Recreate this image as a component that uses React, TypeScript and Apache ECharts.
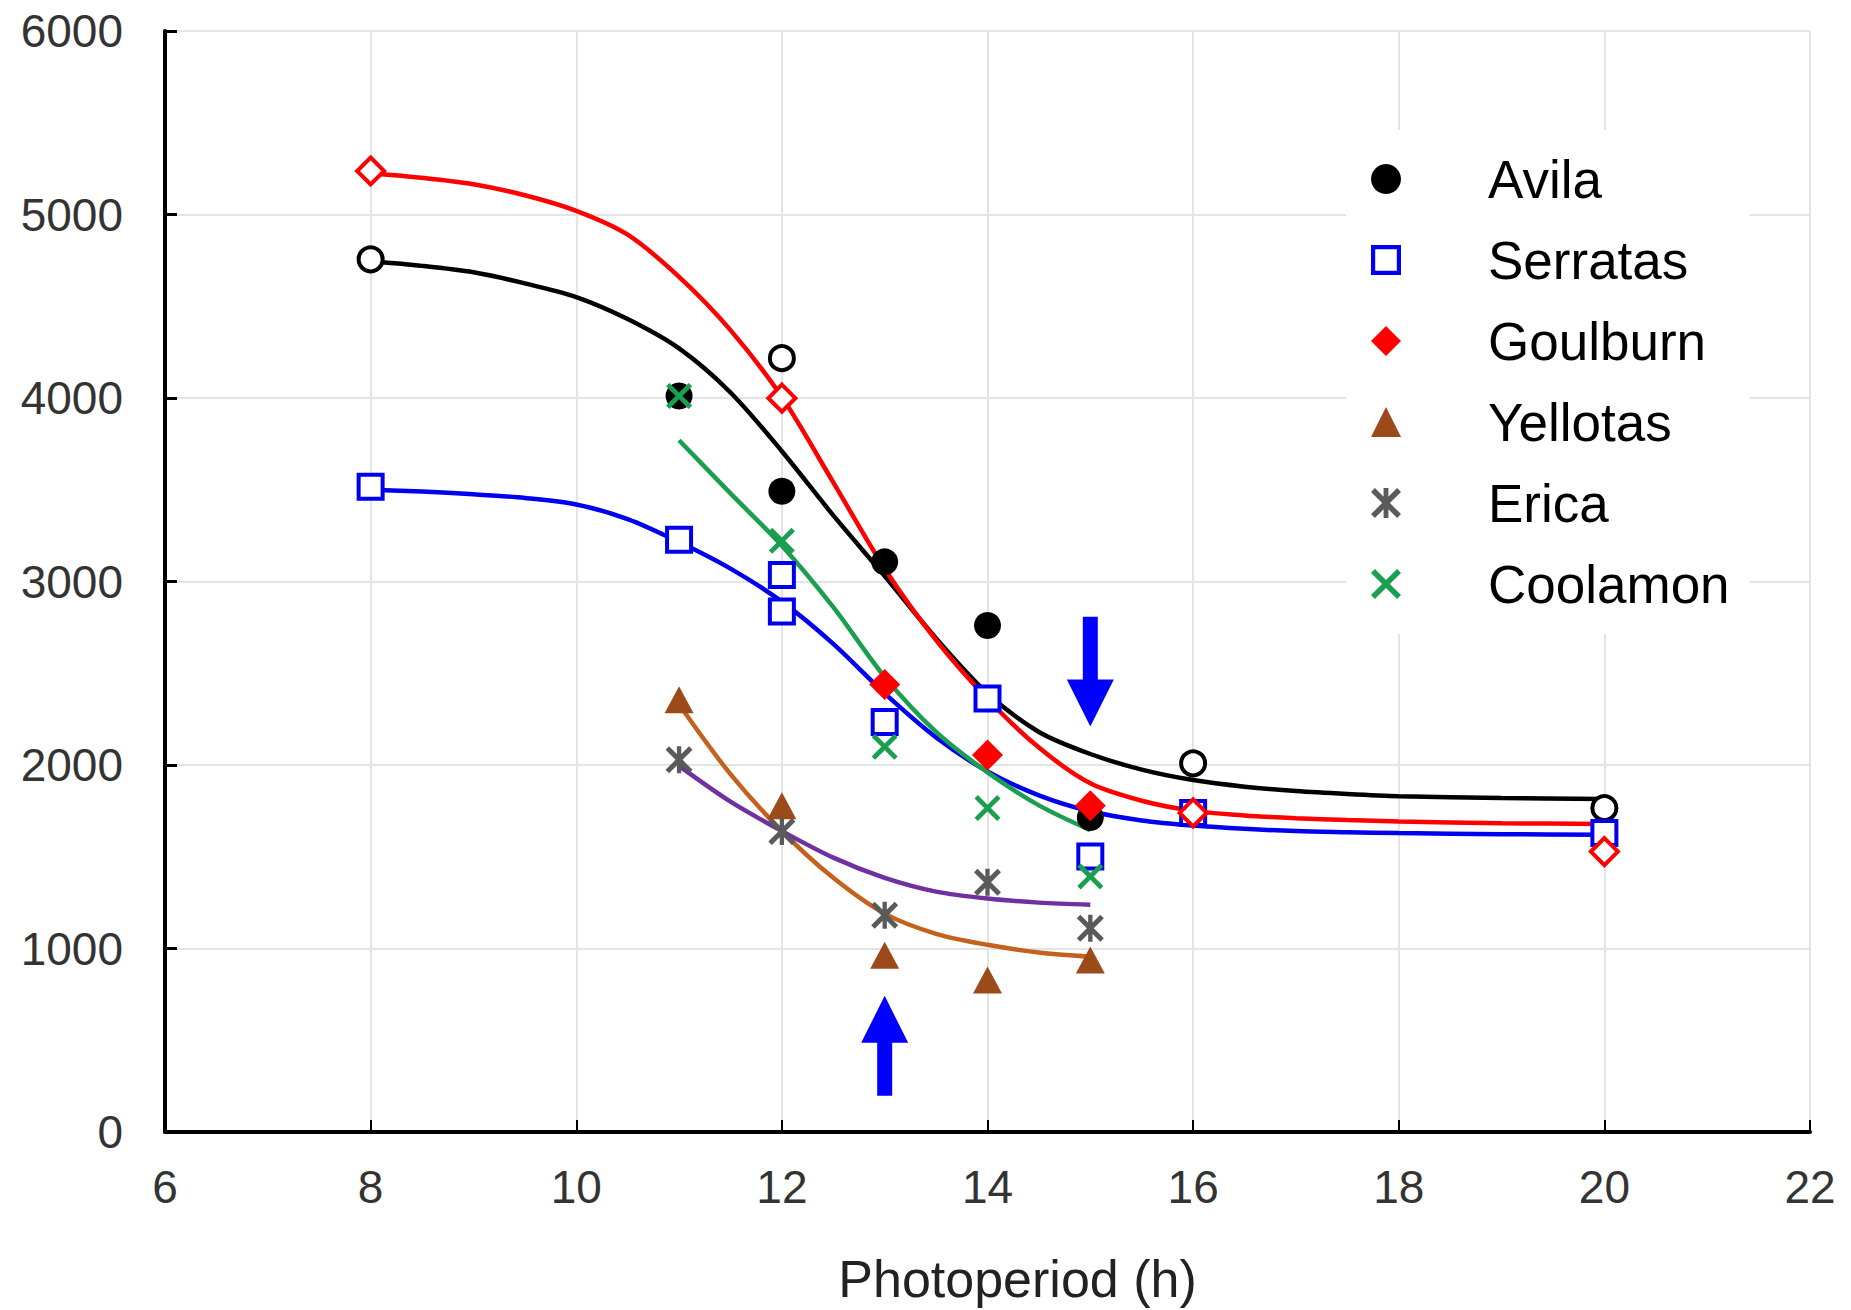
import React, { useEffect, useRef } from "react";
import * as echarts from "echarts";

const FONT = "'Liberation Sans', Arial, sans-serif";

// Observed points [photoperiod h, value]
const avilaFilled = [[11, 4011], [12, 3492], [13, 3107], [14, 2760], [15, 1714]];
const avilaOpen = [[8, 4756], [12, 4217], [16, 2009], [20, 1765]];
const serratas = [[8, 3517], [11, 3228], [12, 3036], [12, 2837], [13, 2234], [14, 2362], [15, 1502], [16, 1739], [20, 1630]];
const goulburnFilled = [[13, 2439], [14, 2054], [15, 1778]];
const goulburnOpen = [[8, 5237], [12, 3999], [16, 1739], [20, 1528]];
const yellotas = [[11, 2356], [12, 1778], [13, 963], [14, 828], [15, 937]];
const erica = [[11, 2028], [12, 1637], [13, 1181], [14, 1361], [15, 1110]];
const coolamon = [[11, 4011], [12, 3222], [13, 2099], [14, 1765], [15, 1393]];

// Fitted curves
const avilaFit = [[8, 4745], [8.5, 4720], [9, 4685], [9.5, 4625], [10, 4550], [10.5, 4430], [11, 4270], [11.5, 4030], [12, 3710], [12.5, 3360], [13, 3030], [13.5, 2690], [14, 2390], [14.5, 2180], [15, 2060], [15.5, 1975], [16, 1918], [16.5, 1882], [17, 1858], [17.5, 1842], [18, 1830], [19, 1820], [20, 1815]];
const goulburnFit = [[8, 5225], [8.5, 5200], [9, 5165], [9.5, 5105], [10, 5020], [10.5, 4890], [11, 4660], [11.5, 4370], [12, 4005], [12.5, 3540], [13, 3070], [13.5, 2680], [14, 2360], [14.5, 2095], [15, 1900], [15.5, 1805], [16, 1750], [16.5, 1725], [17, 1710], [17.5, 1700], [18, 1692], [19, 1683], [20, 1678]];
const serratasFit = [[8, 3500], [8.5, 3490], [9, 3475], [9.5, 3455], [10, 3420], [10.5, 3340], [11, 3215], [11.5, 3070], [12, 2890], [12.5, 2660], [13, 2390], [13.5, 2150], [14, 1965], [14.5, 1835], [15, 1748], [15.5, 1698], [16, 1670], [16.5, 1652], [17, 1640], [17.5, 1634], [18, 1629], [19, 1623], [20, 1620]];
const coolamonFit = [[11, 3770], [11.5, 3480], [12, 3195], [12.5, 2860], [13, 2480], [13.5, 2180], [14, 1960], [14.5, 1780], [15, 1645]];
const yellotasFit = [[11, 2330], [11.5, 1950], [12, 1640], [12.5, 1385], [13, 1190], [13.5, 1080], [14, 1020], [14.5, 978], [15, 955]];
const ericaFit = [[11, 1995], [11.5, 1800], [12, 1640], [12.5, 1495], [13, 1385], [13.5, 1310], [14, 1272], [14.5, 1250], [15, 1239]];

const legendNames = ["Avila", "Serratas", "Goulburn", "Yellotas", "Erica", "Coolamon"];

// Arrows: [x, tail value, tip value]
const arrowDown = [15, 2808, 2210];
const arrowUp = [13, 198, 742];

const C = {
  avila: "#000000",
  serratas: "#0000ee",
  goulburn: "#ff0000",
  yellotas: "#9c4a1a",
  yellotasLine: "#c4611d",
  erica: "#5a5a5a",
  ericaLine: "#7030a0",
  coolamon: "#1a9e4f",
  coolamonLine: "#1a9e4f",
  arrow: "#0000ff",
};

const X_PATH = "path://M0,1.3 L1.3,0 L5,3.7 L8.7,0 L10,1.3 L6.3,5 L10,8.7 L8.7,10 L5,6.3 L1.3,10 L0,8.7 L3.7,5 Z";
const STAR_PATH = "path://M0,1.3 L1.3,0 L5,3.7 L8.7,0 L10,1.3 L6.3,5 L10,8.7 L8.7,10 L5,6.3 L1.3,10 L0,8.7 L3.7,5 Z M4.2,0 L5.8,0 L5.8,10 L4.2,10 Z";
const HOLLOW_SQ = "path://M0,0 L10,0 L10,10 L0,10 Z M1.4,1.4 L1.4,8.6 L8.6,8.6 L8.6,1.4 Z";

export default function App() {
  const ref = useRef<HTMLDivElement>(null);
  useEffect(() => {
    document.body.style.margin = "0";
    const chart = echarts.init(ref.current!, null, { renderer: "svg" });

    const fitLine = (name: string, data: number[][], color: string) => ({
      name,
      type: "line",
      data,
      smooth: 0.3,
      showSymbol: false,
      symbol: "none",
      lineStyle: { color, width: 4.5 },
      z: 2,
      silent: true,
    });

    const openItem = (p: number[], color: string, symbol: string) => ({
      value: p,
      symbol,
      symbolSize: 24,
      itemStyle: { color: "#fff", borderColor: color, borderWidth: 4, opacity: 1 },
    });

    const option: any = {
      animation: false,
      backgroundColor: "#fff",
      grid: { left: 165, right: 41, top: 31, bottom: 175.5 },
      xAxis: {
        type: "value",
        min: 6,
        max: 22,
        interval: 2,
        name: "Photoperiod (h)",
        nameLocation: "middle",
        nameGap: 121,
        nameTextStyle: { fontSize: 52, fontFamily: FONT, color: "#222", padding: [0, 0, 0, 60] },
        axisLine: { show: true, onZero: false, lineStyle: { color: "#000", width: 4 } },
        axisTick: { show: true, inside: true, length: 12, lineStyle: { color: "#000", width: 2 } },
        axisLabel: { fontSize: 46, fontFamily: FONT, color: "#333", margin: 32, formatter: (v: number) => String(v) },
        splitLine: { show: true, lineStyle: { color: "#e4e4e4", width: 2 } },
      },
      yAxis: {
        type: "value",
        min: 0,
        max: 6000,
        interval: 1000,
        axisLine: { show: true, lineStyle: { color: "#000", width: 4 } },
        axisTick: { show: true, inside: true, length: 12, lineStyle: { color: "#000", width: 3 } },
        axisLabel: { fontSize: 46, fontFamily: FONT, color: "#333", margin: 42, formatter: (v: number) => String(v) },
        splitLine: { show: true, lineStyle: { color: "#e4e4e4", width: 2 } },
      },
      legend: {
        orient: "vertical",
        left: 1346,
        top: 130,
        backgroundColor: "#fff",
        padding: [19, 20, 20, 25],
        itemWidth: 30,
        itemHeight: 30,
        itemGap: 21,
        selectedMode: false,
        textStyle: { fontSize: 53, fontFamily: FONT, color: "#000", lineHeight: 60, padding: [0, 0, 0, 82] },
        data: [
          { name: legendNames[0], icon: "circle", itemStyle: { color: C.avila, borderWidth: 0, opacity: 1 } },
          { name: legendNames[1], icon: HOLLOW_SQ, itemStyle: { color: C.serratas, borderWidth: 0, opacity: 1 } },
          { name: legendNames[2], icon: "diamond", itemStyle: { color: C.goulburn, borderWidth: 0, opacity: 1 } },
          { name: legendNames[3], icon: "triangle", itemStyle: { color: C.yellotas, borderWidth: 0, opacity: 1 } },
          { name: legendNames[4], icon: STAR_PATH, itemStyle: { color: C.erica, borderWidth: 0, opacity: 1 } },
          { name: legendNames[5], icon: X_PATH, itemStyle: { color: C.coolamon, borderWidth: 0, opacity: 1 } },
        ],
      },
      series: [
        fitLine("Avila fit", avilaFit, C.avila),
        fitLine("Goulburn fit", goulburnFit, C.goulburn),
        fitLine("Serratas fit", serratasFit, C.serratas),
        fitLine("Coolamon fit", coolamonFit, C.coolamonLine),
        fitLine("Yellotas fit", yellotasFit, C.yellotasLine),
        fitLine("Erica fit", ericaFit, C.ericaLine),
        {
          name: "Avila",
          type: "scatter",
          symbol: "circle",
          symbolSize: 27,
          itemStyle: { color: C.avila, opacity: 1 },
          z: 3,
          data: [
            ...avilaFilled.map((p) => ({ value: p })),
            ...avilaOpen.map((p) => openItem(p, C.avila, "circle")),
          ],
        },
        {
          name: "Serratas",
          type: "scatter",
          symbol: "rect",
          z: 3,
          itemStyle: { color: C.serratas, opacity: 1 },
          data: serratas.map((p) => openItem(p, C.serratas, "rect")),
        },
        {
          name: "Goulburn",
          type: "scatter",
          symbol: "diamond",
          symbolSize: 31,
          itemStyle: { color: C.goulburn, opacity: 1 },
          z: 3,
          data: [
            ...goulburnFilled.map((p) => ({ value: p })),
            ...goulburnOpen.map((p) => ({ ...openItem(p, C.goulburn, "diamond"), symbolSize: 27 })),
          ],
        },
        {
          name: "Yellotas",
          type: "scatter",
          symbol: "triangle",
          symbolSize: [29, 27],
          itemStyle: { color: C.yellotas, opacity: 1 },
          z: 3,
          data: yellotas,
        },
        {
          name: "Erica",
          type: "scatter",
          symbol: STAR_PATH,
          symbolSize: 27,
          itemStyle: { color: C.erica, opacity: 1 },
          z: 3,
          data: erica,
        },
        {
          name: "Coolamon",
          type: "scatter",
          symbol: X_PATH,
          symbolSize: 26,
          itemStyle: { color: C.coolamon, opacity: 1 },
          z: 3,
          data: coolamon,
        },
      ],
    };
    chart.setOption(option);

    const arrowShape = (a: number[]) => {
      const tail = chart.convertToPixel({ gridIndex: 0 }, [a[0], a[1]]) as number[];
      const tip = chart.convertToPixel({ gridIndex: 0 }, [a[0], a[2]]) as number[];
      const dir = tip[1] > tail[1] ? 1 : -1;
      const headLen = 47;
      const sw = 7.5;
      const hw = 23.5;
      const x = tip[0];
      const base = tip[1] - dir * headLen;
      return {
        type: "polygon",
        z: 10,
        shape: {
          points: [
            [x - sw, tail[1]],
            [x + sw, tail[1]],
            [x + sw, base],
            [x + hw, base],
            [x, tip[1]],
            [x - hw, base],
            [x - sw, base],
          ],
        },
        style: { fill: C.arrow },
      };
    };
    chart.setOption({ graphic: [arrowShape(arrowDown), arrowShape(arrowUp)] });

    return () => chart.dispose();
  }, []);
  return <div ref={ref} style={{ width: 1851, height: 1310 }} />;
}
